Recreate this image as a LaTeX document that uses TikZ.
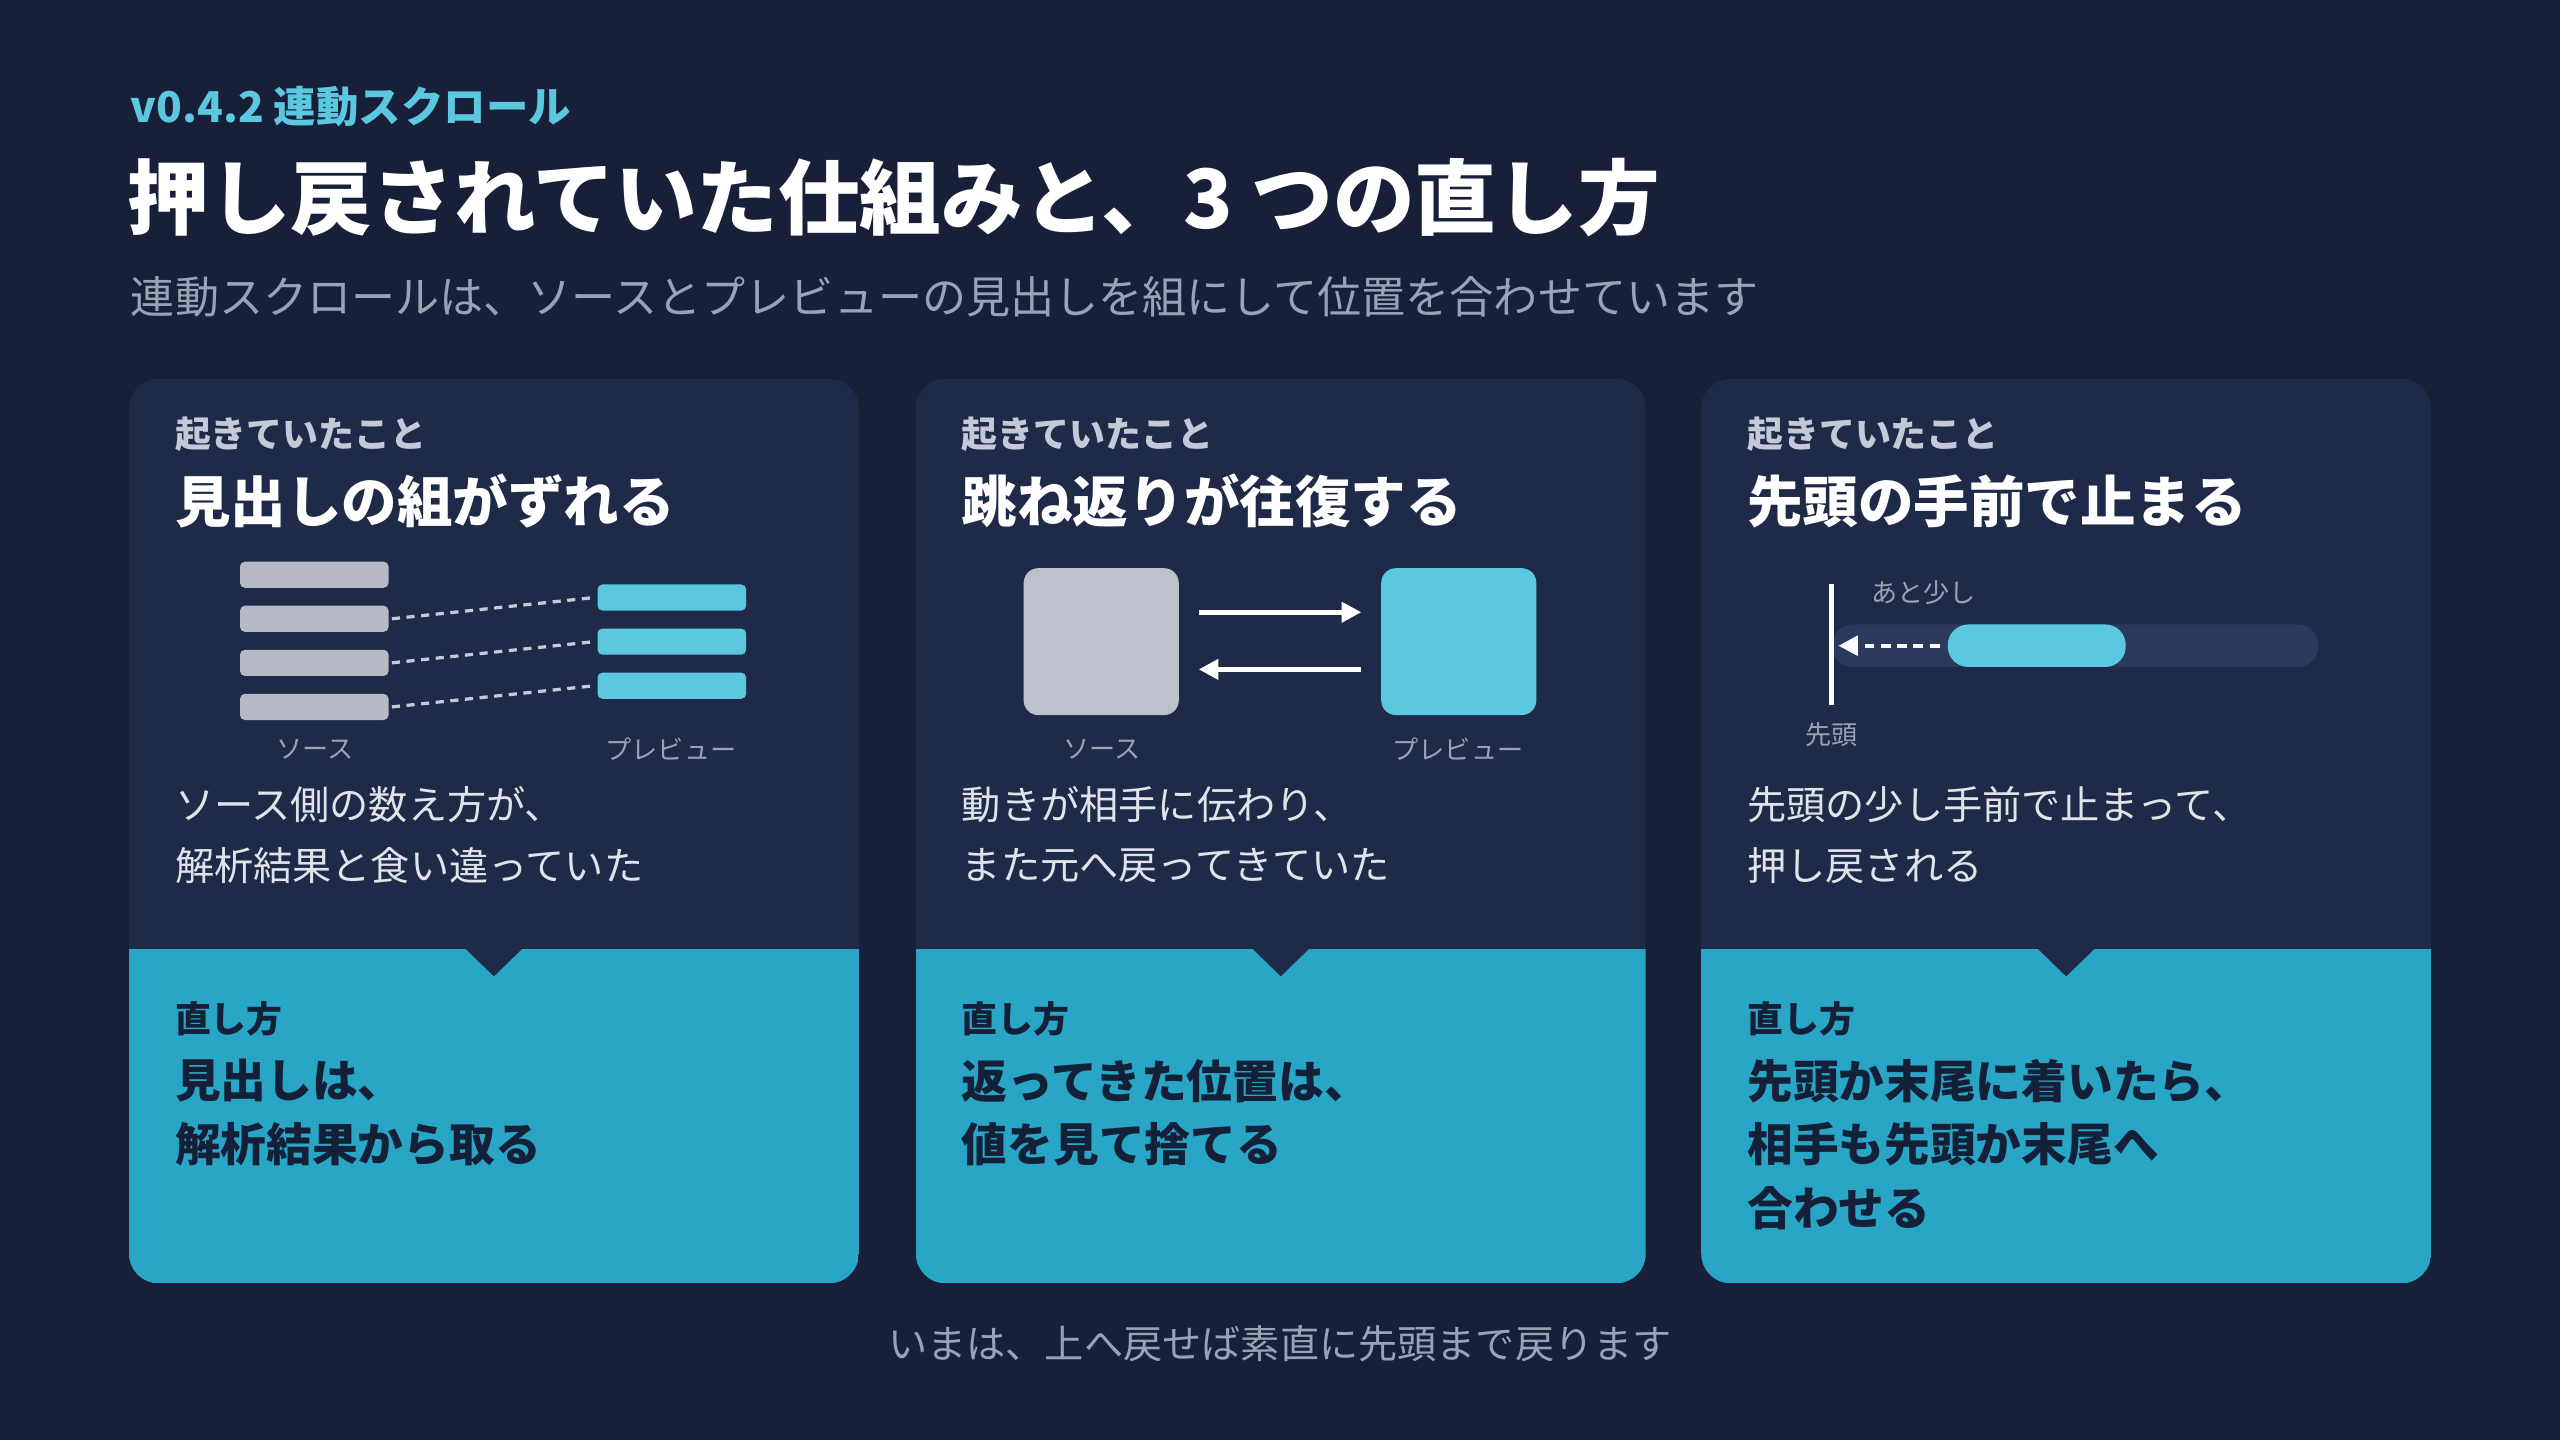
\documentclass[tikz,border=0pt]{standalone}
\usepackage{fontspec}
\setmainfont{Noto Sans CJK JP}
\usetikzlibrary{arrows.meta}
\definecolor{bg}{HTML}{172038}
\definecolor{card}{HTML}{1F2A48}
\definecolor{teal}{HTML}{29A5C6}
\definecolor{cyan}{HTML}{5BC8E0}
\definecolor{sub}{HTML}{9AA3B5}
\definecolor{lt}{HTML}{DFE3EA}
\definecolor{lab}{HTML}{C3C9D6}
\definecolor{dk}{HTML}{132038}
\definecolor{gbar}{HTML}{B5BAC6}
\definecolor{track}{HTML}{2B3A5C}
\begin{document}
\begin{tikzpicture}[x=1pt,y=-1pt,
 t/.style={anchor=west,inner sep=0pt},
 kicker/.style={t,text=lab,font=\fontsize{22}{26}\selectfont\bfseries},
 head/.style={t,text=white,font=\fontsize{34}{40}\selectfont\bfseries},
 body/.style={t,text=lt,font=\fontsize{24}{28}\selectfont},
 fixk/.style={t,text=dk,font=\fontsize{22}{26}\selectfont\bfseries},
 fix/.style={t,text=dk,font=\fontsize{28}{32}\selectfont\bfseries},
 small/.style={inner sep=0pt,text=sub,font=\fontsize{16}{18}\selectfont},
 bar/.style={rounded corners=3pt},
 ln/.style={white,line width=3pt,-{Triangle[length=12pt,width=12pt]}}]
\useasboundingbox (0,0) rectangle (1568,882);
\fill[bg] (0,0) rectangle (1568,882);
\node[t,text=cyan,font=\fontsize{26}{30}\selectfont\bfseries] (ver) at (80,65) {v0.4.2 連動スクロール};
\node[t,text=white,font=\fontsize{50}{56}\selectfont\bfseries] (title) at (78,121) {押し戻されていた仕組みと、3 つの直し方};
\node[t,text=sub,font=\fontsize{27}{32}\selectfont] (subt) at (80,182) {連動スクロールは、ソースとプレビューの見出しを組にして位置を合わせています};
% cards
\foreach \x/\n in {79/a,561/b,1042/c}{
 \begin{scope}
 \clip[rounded corners=18pt] (\x,232) rectangle ++(447,554);
 \fill[card] (\x,232) rectangle ++(447,349);
 \fill[teal] (\x,581) rectangle ++(447,205);
 \fill[card] (\x+205,580) -- (\x+242,580) -- (\x+223.5,598) -- cycle;
 \end{scope}
 \node[kicker] (k\n) at (\x+28,266) {起きていたこと};
 \node[fixk] (fk\n) at (\x+28,624) {直し方};
}
\node[head] (h1) at (107,307) {見出しの組がずれる};
\node[head] (h2) at (589,307) {跳ね返りが往復する};
\node[head] (h3) at (1070,307) {先頭の手前で止まる};
% card1 illustration
\foreach \y/\m in {352/1,379/2,406/3,433/4}{\fill[gbar,bar] (147,\y-8) rectangle (238,\y+8); \coordinate (L\m) at (240,\y);}
\foreach \y/\m in {366/1,393/2,420/3}{\fill[cyan,bar] (366,\y-8) rectangle (457,\y+8); \coordinate (R\m) at (364,\y);}
\draw[lab,line width=2pt,dash pattern=on 5pt off 4pt] (L2)--(R1) (L3)--(R2) (L4)--(R3);
\node[small] (s1) at (193,459) {ソース};
\node[small] (p1) at (411,459) {プレビュー};
\node[body] (b1a) at (107,493) {ソース側の数え方が、};
\node[body] (b1b) at (107,530) {解析結果と食い違っていた};
% card2
\node[fill=gbar!90!white,rounded corners=9pt,minimum width=95pt,minimum height=90pt,inner sep=0pt] (src) at (674.5,393) {};
\node[fill=cyan,rounded corners=9pt,minimum width=95pt,minimum height=90pt,inner sep=0pt] (prv) at (893.5,393) {};
\draw[ln] ([shift={(12,-18)}]src.east) -- ([shift={(-12,-18)}]prv.west);
\draw[ln] ([shift={(-12,17)}]prv.west) -- ([shift={(12,17)}]src.east);
\node[small] (s2) at (675,459) {ソース};
\node[small] (p2) at (893,459) {プレビュー};
\node[body] (b2a) at (589,493) {動きが相手に伝わり、};
\node[body] (b2b) at (589,530) {また元へ戻ってきていた};
% card3
\fill[track,rounded corners=12.5pt] (1122,382.5) rectangle (1420,408.5);
\fill[cyan,rounded corners=12.5pt] (1193,382.5) rectangle (1302,408.5);
\coordinate (wallT) at (1122,358); \coordinate (wallB) at (1122,432);
\draw[white,line width=3pt] (wallT)--(wallB);
\coordinate (ds) at (1188,395.5); \coordinate (de) at (1126,395.5);
\draw[white,line width=2.5pt,dash pattern=on 6pt off 4pt,-{Triangle[length=12pt,width=12pt]}] (ds)--(de);
\node[small] (near) at (1178,363) {あと少し};
\node[small] (top) at (1122,450) {先頭};
\node[body] (b3a) at (1070,493) {先頭の少し手前で止まって、};
\node[body] (b3b) at (1070,530) {押し戻される};
% fixes
\node[fix] (f1a) at (107,662) {見出しは、};
\node[fix] (f1b) at (107,701) {解析結果から取る};
\node[fix] (f2a) at (589,662) {返ってきた位置は、};
\node[fix] (f2b) at (589,701) {値を見て捨てる};
\node[fix] (f3a) at (1070,662) {先頭か末尾に着いたら、};
\node[fix] (f3b) at (1070,701) {相手も先頭か末尾へ};
\node[fix] (f3c) at (1070,740) {合わせる};
\node[inner sep=0pt,text=sub,font=\fontsize{24}{28}\selectfont] (foot) at (784,823) {いまは、上へ戻せば素直に先頭まで戻ります};
\end{tikzpicture}
\end{document}
